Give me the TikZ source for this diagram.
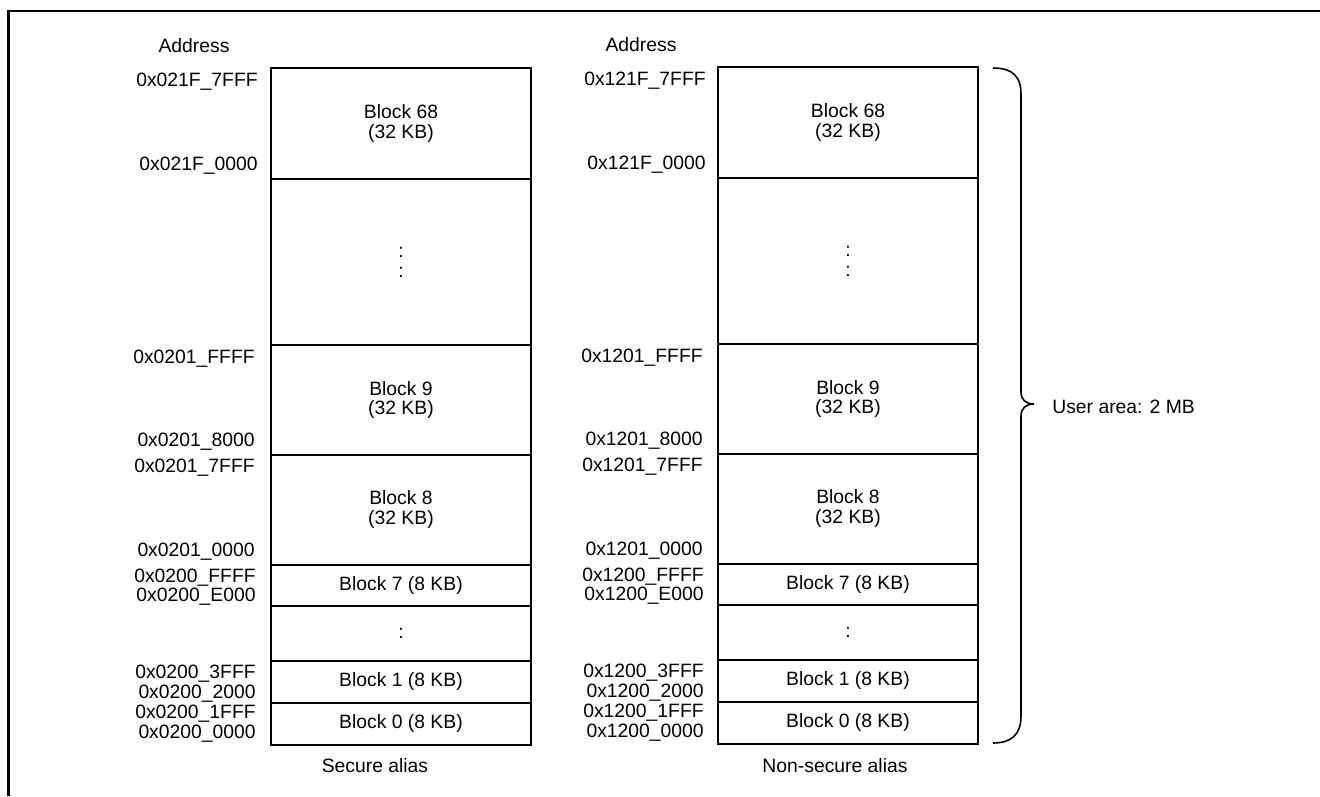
\documentclass[tikz,border=0pt]{standalone}
\usepackage{fontspec}
\setmainfont{Liberation Sans}
\usetikzlibrary{positioning}

\begin{document}
\begin{tikzpicture}[x=0.02cm,y=-0.02cm,font=\fontsize{11}{11.3}\selectfont,
 cell/.style={draw,line width=0.8pt,outer sep=0pt,inner sep=0pt,minimum width=5.2cm,align=center},
 addr/.style={anchor=base east,inner sep=0pt},
 lbl/.style={anchor=base,inner sep=0pt}]
\useasboundingbox (0,0) rectangle (1320,796);
\draw[line width=1.6pt] (8.7,796) -- (8.7,11) -- (1320,11);

% secure alias
\node[lbl] (saddr) at (194,52) {Address};
\node[cell,minimum height=2.22cm,anchor=north west] (s68) at (271,68) {Block 68\\(32 KB)};
\node[cell,minimum height=3.32cm,below=0pt of s68] (sgap) {:\\:};
\node[cell,minimum height=2.2cm,below=0pt of sgap] (s9) {Block 9\\(32 KB)};
\node[cell,minimum height=2.2cm,below=0pt of s9] (s8) {Block 8\\(32 KB)};
\node[cell,minimum height=0.82cm,below=0pt of s8] (s7) {Block 7 (8 KB)};
\node[cell,minimum height=1.1cm,below=0pt of s7] (sgapb) {:};
\node[cell,minimum height=0.84cm,below=0pt of sgapb] (s1) {Block 1 (8 KB)};
\node[cell,minimum height=0.84cm,below=0pt of s1] (s0) {Block 0 (8 KB)};
\node[addr] (sa1) at (258,86) {0x021F\_7FFF};
\node[addr] (sa2) at (258,170) {0x021F\_0000};
\node[addr] (sa3) at (255,363) {0x0201\_FFFF};
\node[addr] (sa4) at (255,446) {0x0201\_8000};
\node[addr] (sa5) at (255,472) {0x0201\_7FFF};
\node[addr] (sa6) at (255,556) {0x0201\_0000};
\node[addr] (sa7) at (256,582) {0x0200\_FFFF};
\node[addr] (sa8) at (256,601) {0x0200\_E000};
\node[addr] (sa9) at (256,678) {0x0200\_3FFF};
\node[addr] (sa10) at (256,698) {0x0200\_2000};
\node[addr] (sa11) at (256,718) {0x0200\_1FFF};
\node[addr] (sa12) at (256,738) {0x0200\_0000};
\node[lbl] (scap) at (375,772) {Secure alias};

% non-secure alias
\node[lbl] (naddr) at (641,51) {Address};
\node[cell,minimum height=2.22cm,anchor=north west] (n68) at (718,67) {Block 68\\(32 KB)};
\node[cell,minimum height=3.32cm,below=0pt of n68] (ngap) {:\\:};
\node[cell,minimum height=2.2cm,below=0pt of ngap] (n9) {Block 9\\(32 KB)};
\node[cell,minimum height=2.2cm,below=0pt of n9] (n8) {Block 8\\(32 KB)};
\node[cell,minimum height=0.82cm,below=0pt of n8] (n7) {Block 7 (8 KB)};
\node[cell,minimum height=1.1cm,below=0pt of n7] (ngapb) {:};
\node[cell,minimum height=0.84cm,below=0pt of ngapb] (n1) {Block 1 (8 KB)};
\node[cell,minimum height=0.84cm,below=0pt of n1] (n0) {Block 0 (8 KB)};
\node[addr] (na1) at (706,85) {0x121F\_7FFF};
\node[addr] (na2) at (706,169) {0x121F\_0000};
\node[addr] (na3) at (703,362) {0x1201\_FFFF};
\node[addr] (na4) at (703,445) {0x1201\_8000};
\node[addr] (na5) at (703,471) {0x1201\_7FFF};
\node[addr] (na6) at (703,555) {0x1201\_0000};
\node[addr] (na7) at (704,581) {0x1200\_FFFF};
\node[addr] (na8) at (704,600) {0x1200\_E000};
\node[addr] (na9) at (704,677) {0x1200\_3FFF};
\node[addr] (na10) at (704,697) {0x1200\_2000};
\node[addr] (na11) at (704,717) {0x1200\_1FFF};
\node[addr] (na12) at (704,737) {0x1200\_0000};
\node[lbl] (ncap) at (835,772) {Non-secure alias};

% brace over the user area
\coordinate (btip) at (1034,404);
\draw[line width=0.9pt] (993,68) .. controls (1012,68) and (1021,76) .. (1021,94) -- (1021,392)
  .. controls (1021,400) and (1026,404) .. (btip) .. controls (1026,404) and (1021,408) .. (1021,416)
  -- (1021,716) .. controls (1021,734) and (1012,743) .. (993,743);
\node[anchor=base west,inner sep=0pt] (user) at (1052,413) {User area: 2 MB};
\end{tikzpicture}
\end{document}
